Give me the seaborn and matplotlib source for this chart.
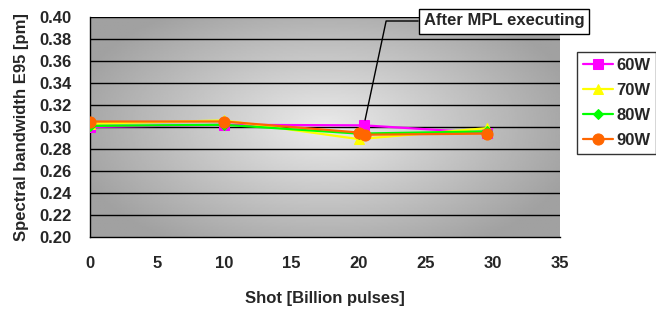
import numpy as np
import pandas as pd
import matplotlib
matplotlib.use("Agg")
import matplotlib.pyplot as plt
import seaborn as sns

# data
x_60w = [0, 10, 20.4, 29.6]
y_60w = [0.300, 0.302, 0.3015, 0.2945]
x_70w = [0, 10, 20.0, 29.6]
y_70w = [0.303, 0.306, 0.289, 0.299]
x_80w = [0, 10, 20.0, 29.6]
y_80w = [0.301, 0.302, 0.294, 0.296]
x_90w = [0, 10, 20.0, 20.5, 29.6]
y_90w = [0.305, 0.305, 0.295, 0.293, 0.294]

labels = ["60W", "70W", "80W", "90W"]
colors = ["#ff00ff", "#ffff00", "#00ff00", "#ff6600"]
markers = ["s", "^", "D", "o"]
msizes = [7, 7, 5, 8]
x_ticks = [0, 5, 10, 15, 20, 25, 30, 35]
y_ticks = [0.20, 0.22, 0.24, 0.26, 0.28, 0.30, 0.32, 0.34, 0.36, 0.38, 0.40]

sns.set_style("white")
plt.rcParams["font.family"] = ["Liberation Sans", "DejaVu Sans"]
plt.rcParams["font.weight"] = "bold"
FS = 12

fig = plt.figure(figsize=(6.56, 3.09), dpi=100)
ax = fig.add_axes([90 / 656, 1 - 237 / 309, 470 / 656, 220 / 309])

# gray gradient background, lighter in the middle
gx = np.linspace(-1, 1, 300)
gy = np.linspace(-1, 1, 150)
GX, GY = np.meshgrid(gx, gy)
r = np.clip(np.sqrt(GX ** 2 * 0.8 + GY ** 2 * 0.6), 0, 1)
shade = 0.92 - 0.29 * r
ax.imshow(shade, cmap="gray", vmin=0, vmax=1, extent=[0, 1, 0, 1],
          transform=ax.transAxes, aspect="auto", zorder=0)

series = [(x_60w, y_60w), (x_70w, y_70w), (x_80w, y_80w), (x_90w, y_90w)]
for (xs, ys), lab, c, m, ms in zip(series, labels, colors, markers, msizes):
    df = pd.DataFrame({"shot": xs, "bw": ys})
    sns.lineplot(data=df, x="shot", y="bw", ax=ax, color=c, marker=m,
                 markersize=ms, markeredgecolor=c, linewidth=1.6,
                 sort=False, label=lab, zorder=3)

ax.set_xlim(0, 35)
ax.set_ylim(0.20, 0.40)
ax.set_xticks(x_ticks)
ax.set_yticks(y_ticks)
ax.set_yticklabels([f"{v:.2f}" for v in y_ticks])
ax.tick_params(axis="both", direction="in", length=4, labelsize=FS)
ax.tick_params(axis="y", pad=13)
ax.tick_params(axis="x", pad=14)
for lbl in ax.get_xticklabels() + ax.get_yticklabels():
    lbl.set_fontweight("bold")
for v in y_ticks[1:]:
    ax.axhline(v, color="black", linewidth=1, zorder=1)
for s in ["top", "right"]:
    ax.spines[s].set_visible(False)
for s in ["left", "bottom"]:
    ax.spines[s].set_color("black")
    ax.spines[s].set_linewidth(1)

ax.set_xlabel("Shot [Billion pulses]", fontsize=FS, fontweight="bold", labelpad=14)
ax.set_ylabel("Spectral bandwidth E95 [pm]", fontsize=FS, fontweight="bold", labelpad=8)

handles, labs = ax.get_legend_handles_labels()
ax.get_legend().remove()
leg = fig.legend(handles, labs, loc="upper left",
                 bbox_to_anchor=(577 / 656, 1 - 52 / 309), borderaxespad=0,
                 frameon=True, fancybox=False, edgecolor="black", fontsize=FS,
                 handlelength=1.8, borderpad=0.35, labelspacing=0.6,
                 handletextpad=0.2)
leg.get_frame().set_linewidth(1)
for t in leg.get_texts():
    t.set_fontweight("bold")

ax.annotate("After MPL executing", xy=(x_60w[2], y_60w[2]),
            xytext=(504 / 656, 1 - 21 / 309), textcoords="figure fraction",
            ha="center", va="center", fontsize=FS, fontweight="bold",
            bbox=dict(boxstyle="square,pad=0.3", fc="white", ec="black", lw=1),
            arrowprops=dict(arrowstyle="-", color="black", lw=1,
                            connectionstyle="angle,angleA=0,angleB=78,rad=0",
                            shrinkA=0, shrinkB=4),
            zorder=5, annotation_clip=False)

fig.savefig("out.png", dpi=100)
